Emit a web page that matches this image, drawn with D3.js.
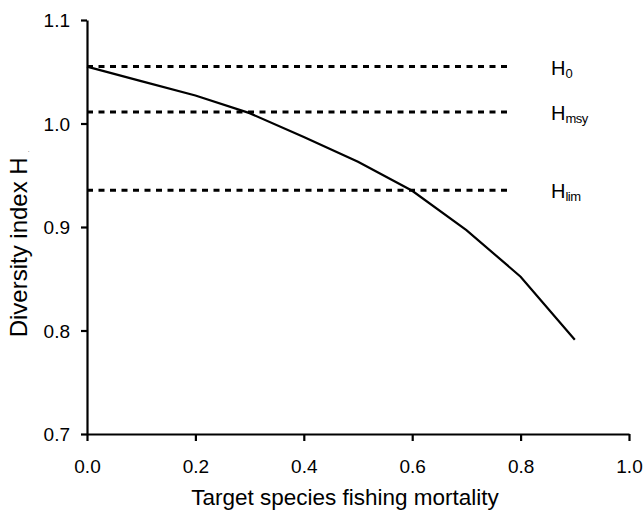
<!DOCTYPE html>
<html>
<head>
<meta charset="utf-8">
<script src="https://cdn.jsdelivr.net/npm/d3@7"></script>
<style>
  html, body { margin: 0; padding: 0; background: #fff; }
  svg text { font-family: Arial, "Liberation Sans", sans-serif; fill: #000; }
</style>
</head>
<body>
<svg id="chart" width="643" height="514"></svg>
<script>
// ---- data ----
const mortality = [0, 0.1, 0.2, 0.3, 0.4, 0.5, 0.6, 0.7, 0.8, 0.9];
const diversity = [1.055, 1.041, 1.027, 1.010, 0.987, 0.963, 0.935, 0.897, 0.852, 0.791];
const refNames = ["0", "msy", "lim"];
const refValues = [1.055, 1.011, 0.9355];
const xTicks = [0, 0.2, 0.4, 0.6, 0.8, 1.0];
const yTicks = [0.7, 0.8, 0.9, 1.0, 1.1];
const xTitle = "Target species fishing mortality";
const yTitle = "Diversity index H";

// ---- layout ----
const svg = d3.select("#chart");
const x = d3.scaleLinear().domain([0, 1]).range([87, 629]);
const y = d3.scaleLinear().domain([0.7, 1.1]).range([434, 20]);

// reference lines (dotted)
const refEnd = 0.785;
svg.append("g").selectAll("line").data(refValues).join("line")
  .attr("x1", x(0)).attr("x2", x(refEnd))
  .attr("y1", d => y(d)).attr("y2", d => y(d))
  .attr("stroke", "#000").attr("stroke-width", 3)
  .attr("stroke-dasharray", "6,5.5");

// labels for reference lines
const lab = svg.append("g").selectAll("text").data(refValues).join("text")
  .attr("x", 551)
  .attr("y", d => y(d) + 8)
  .attr("font-size", 20);
lab.append("tspan").text("H");
lab.append("tspan").attr("font-size", 13).attr("dy", 3).attr("letter-spacing", -0.5).text((d, i) => refNames[i]);

// curve
const line = d3.line().x(d => x(d[0])).y(d => y(d[1]));
svg.append("path")
  .datum(mortality.map((m, i) => [m, diversity[i]]))
  .attr("d", line)
  .attr("fill", "none").attr("stroke", "#000").attr("stroke-width", 2.2);

// axes
const xAxis = svg.append("g").attr("transform", `translate(0,${y(0.7)})`)
  .call(d3.axisBottom(x).tickValues(xTicks).tickFormat(d3.format(".1f")).tickSize(7).tickSizeOuter(0));
const yAxis = svg.append("g").attr("transform", `translate(${x(0)},0)`)
  .call(d3.axisLeft(y).tickValues(yTicks).tickFormat(d3.format(".1f")).tickSize(6).tickSizeOuter(0));

[xAxis, yAxis].forEach(a => {
  a.select(".domain").attr("stroke", "#000").attr("stroke-width", 2.2);
  a.selectAll(".tick line").attr("stroke", "#000").attr("stroke-width", 2.2);
  a.selectAll(".tick text").attr("font-size", 19).attr("font-family", "Arial, 'Liberation Sans', sans-serif").attr("fill", "#000");
});
xAxis.selectAll(".tick text").attr("y", 0).attr("dy", 39);
yAxis.selectAll(".tick text").attr("x", -17).attr("dy", "0.35em");

// axis titles
svg.append("text")
  .attr("x", 345).attr("y", 505)
  .attr("text-anchor", "middle").attr("font-size", 22.5)
  .text(xTitle);

const yt = svg.append("text")
  .attr("transform", "translate(27,244) rotate(-90)")
  .attr("text-anchor", "middle").attr("font-size", 24);
yt.append("tspan").text(yTitle);
yt.append("tspan").attr("font-size", 6).attr("dy", 2).attr("dx", 5).text(".");
</script>
</body>
</html>
